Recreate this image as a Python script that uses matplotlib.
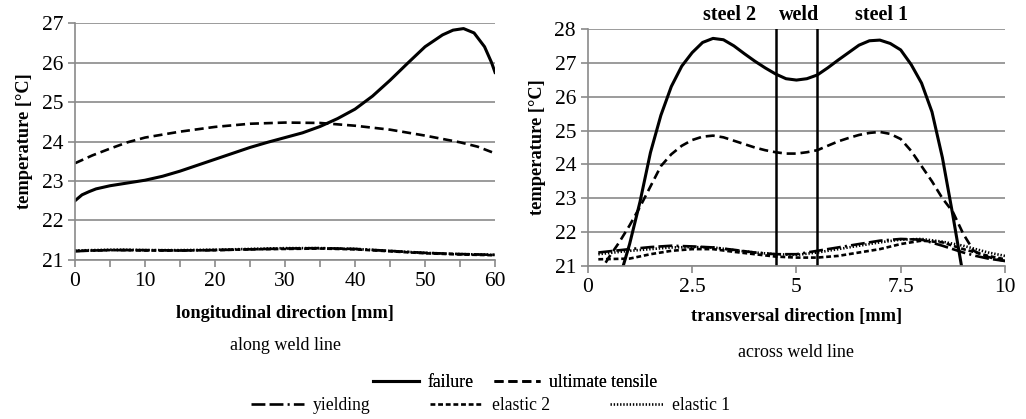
import matplotlib.pyplot as plt
from matplotlib.lines import Line2D

plt.rcParams['font.family'] = ['Liberation Serif', 'DejaVu Serif']
plt.rcParams['lines.scale_dashes'] = False

# along weld line (longitudinal)
long_x = [0, 1, 2, 3, 5, 7.5, 10, 12.5, 15, 17.5, 20, 22.5, 25, 27.5, 30, 32.5, 35, 37.5,
          40, 42.5, 45, 47.5, 50, 52.5, 54, 55.5, 57, 58.5, 59.5, 60]
long_failure = [22.5, 22.65, 22.73, 22.8, 22.88, 22.95, 23.02, 23.12, 23.25, 23.4, 23.55, 23.7,
                23.85, 23.98, 24.1, 24.22, 24.38, 24.58, 24.82, 25.15, 25.55, 25.98, 26.4, 26.7,
                26.82, 26.86, 26.75, 26.4, 26.0, 25.75]

long_x2 = [0, 2.5, 5, 7.5, 10, 15, 20, 25, 30, 35, 40, 45, 50, 55, 57.5, 60]
long_ultimate = [23.45, 23.65, 23.82, 23.98, 24.1, 24.25, 24.37, 24.45, 24.48, 24.47, 24.4, 24.3,
                 24.15, 23.98, 23.87, 23.7]
long_yield = [21.22, 21.24, 21.25, 21.25, 21.25, 21.24, 21.25, 21.27, 21.29, 21.3, 21.28, 21.23,
              21.18, 21.15, 21.14, 21.13]
long_el2 = [21.23, 21.24, 21.25, 21.25, 21.24, 21.24, 21.25, 21.27, 21.28, 21.29, 21.27, 21.22,
            21.17, 21.14, 21.13, 21.12]
long_el1 = [21.24, 21.25, 21.26, 21.26, 21.25, 21.25, 21.26, 21.28, 21.3, 21.3, 21.28, 21.23,
            21.18, 21.15, 21.14, 21.13]

# across weld line (transversal)
tr_x = [0.25, 0.5, 0.75, 1.0, 1.25, 1.5, 1.75, 2.0, 2.25, 2.5, 2.75, 3.0, 3.25, 3.5, 3.75, 4.0,
        4.25, 4.5, 4.75, 5.0, 5.25, 5.5, 5.75, 6.0, 6.25, 6.5, 6.75, 7.0, 7.25, 7.5, 7.75, 8.0,
        8.25, 8.5, 8.75, 9.0, 9.25]
tr_failure = [18.6, 19.6, 20.6, 21.65, 22.9, 24.35, 25.45, 26.3, 26.9, 27.3, 27.6, 27.72, 27.68,
              27.5, 27.27, 27.05, 26.85, 26.67, 26.53, 26.49, 26.53, 26.64, 26.85, 27.08, 27.3,
              27.52, 27.65, 27.67, 27.57, 27.38, 26.95, 26.4, 25.55, 24.2, 22.5, 20.7, 18.8]

tr_x2 = [0.25, 0.5, 0.75, 1.0, 1.25, 1.5, 1.75, 2.0, 2.25, 2.5, 2.75, 3.0, 3.25, 3.5, 3.75, 4.0,
         4.25, 4.5, 4.75, 5.0, 5.25, 5.5, 5.75, 6.0, 6.25, 6.5, 6.75, 7.0, 7.25, 7.5, 7.75, 8.0,
         8.25, 8.5, 8.75, 9.0, 9.25, 9.5, 9.75, 10.0]
tr_ultimate = [20.75, 21.25, 21.7, 22.2, 22.75, 23.35, 23.95, 24.3, 24.55, 24.72, 24.82, 24.85,
               24.8, 24.7, 24.6, 24.5, 24.42, 24.36, 24.32, 24.32, 24.36, 24.42, 24.55, 24.68,
               24.78, 24.87, 24.93, 24.96, 24.9, 24.75, 24.4, 23.95, 23.5, 23.0, 22.6, 21.95,
               21.45, 21.3, 21.22, 21.15]

tr_x3 = [0.25, 1.0, 1.5, 2.0, 2.5, 3.0, 3.5, 4.0, 4.5, 5.0, 5.5, 6.0, 6.5, 7.0, 7.5, 8.0, 8.5,
         9.0, 9.3, 9.6, 10.0]
tr_yield = [21.4, 21.5, 21.56, 21.6, 21.58, 21.55, 21.48, 21.4, 21.35, 21.35, 21.45, 21.55,
            21.65, 21.75, 21.8, 21.78, 21.6, 21.4, 21.3, 21.22, 21.15]
tr_el2 = [21.2, 21.22, 21.35, 21.45, 21.5, 21.5, 21.42, 21.35, 21.28, 21.25, 21.25, 21.3, 21.4,
          21.5, 21.65, 21.75, 21.7, 21.5, 21.4, 21.3, 21.2]
tr_el1 = [21.35, 21.45, 21.5, 21.55, 21.56, 21.55, 21.47, 21.4, 21.35, 21.33, 21.4, 21.5, 21.6,
          21.7, 21.78, 21.8, 21.72, 21.6, 21.5, 21.4, 21.3]

weld_edges = [4.5, 5.5]
zone_labels = ['steel 2', 'weld', 'steel 1']
zone_pos = [3.4, 5.06, 7.04]

styles = {
    'failure': dict(color='black', lw=2.2, ls='-'),
    'ultimate tensile': dict(color='black', lw=1.9, dashes=(6.5, 3.5)),
    'yielding': dict(color='black', lw=1.9, dashes=(10, 3, 10, 3, 1.5, 3)),
    'elastic 2': dict(color='black', lw=1.9, dashes=(3.5, 2)),
    'elastic 1': dict(color='black', lw=1.9, dashes=(1, 1.3)),
}

fig = plt.figure(figsize=(10.26, 4.19), dpi=100)
ax1 = fig.add_axes([0.0731, 0.3795, 0.4094, 0.5655])
ax2 = fig.add_axes([0.573, 0.365, 0.4065, 0.566])


def style_axes(ax):
    for s in ['top', 'right']:
        ax.spines[s].set_visible(False)
    for s in ['left', 'bottom']:
        ax.spines[s].set_color('#8a8a8a')
        ax.spines[s].set_linewidth(1.2)
    ax.grid(axis='y', color='#8a8a8a', lw=1.2)
    ax.set_axisbelow(True)
    ax.tick_params(colors='#8a8a8a', labelcolor='black', labelsize=15.5, length=5, width=1.2)
    ax.tick_params(axis='x', which='minor', colors='#8a8a8a', length=5, width=1.2)
    ax.set_ylabel('temperature [°C]', fontsize=13.2, fontweight='bold', labelpad=6)


ax1.plot(long_x2, long_el1, **styles['elastic 1'])
ax1.plot(long_x2, long_el2, **styles['elastic 2'])
ax1.plot(long_x2, long_yield, **styles['yielding'])
ax1.plot(long_x2, long_ultimate, **styles['ultimate tensile'])
ax1.plot(long_x, long_failure, **styles['failure'])
ax1.set_xlim(0, 60)
ax1.set_ylim(21, 27)
ax1.set_yticks(range(21, 28))
ax1.set_xticks(range(0, 61, 10))
ax1.set_xticks(range(5, 60, 10), minor=True)
style_axes(ax1)
ax1.set_xlabel('longitudinal direction [mm]', fontsize=13.2, fontweight='bold', labelpad=10)
ax1.text(0.5, -0.36, 'along weld line', transform=ax1.transAxes, ha='center', va='center',
         fontsize=13)

ax2.plot(tr_x3, tr_el1, **styles['elastic 1'])
ax2.plot(tr_x3, tr_el2, **styles['elastic 2'])
ax2.plot(tr_x3, tr_yield, **styles['yielding'])
ax2.plot(tr_x2, tr_ultimate, **styles['ultimate tensile'])
ax2.plot(tr_x, tr_failure, **styles['failure'])
for xe in weld_edges:
    ax2.axvline(xe, color='black', lw=1.8)
ax2.set_xlim(0, 10)
ax2.set_ylim(21, 28)
ax2.set_yticks(range(21, 29))
ax2.set_xticks([0, 2.5, 5, 7.5, 10])
ax2.set_xticklabels(['0', '2.5', '5', '7.5', '10'])
style_axes(ax2)
ax2.set_xlabel('transversal direction [mm]', fontsize=13.2, fontweight='bold', labelpad=8)
ax2.text(0.5, -0.365, 'across weld line', transform=ax2.transAxes, ha='center', va='center',
         fontsize=13)
for lbl, xp in zip(zone_labels, zone_pos):
    ax2.text(xp, 1.06, lbl, transform=ax2.get_xaxis_transform(), ha='center', va='center',
             fontsize=14.5, fontweight='bold')

names = list(styles.keys())
handles = {n: Line2D([], [], **styles[n]) for n in names}
leg1 = fig.legend([handles[n] for n in names[:2]], names[:2], ncol=2, loc='center',
                  bbox_to_anchor=(0.502, 0.087), frameon=False, fontsize=12.7,
                  handlelength=2.6, handletextpad=0.5, columnspacing=1.15,
                  borderpad=0, borderaxespad=0)
fig.add_artist(leg1)
fig.legend([handles[n] for n in names[2:]], names[2:], ncol=3, loc='center',
           bbox_to_anchor=(0.478, 0.032), frameon=False, fontsize=12.7,
           handlelength=3.0, handletextpad=0.5, columnspacing=3.4,
           borderpad=0, borderaxespad=0)

fig.savefig('out.png', dpi=100)
